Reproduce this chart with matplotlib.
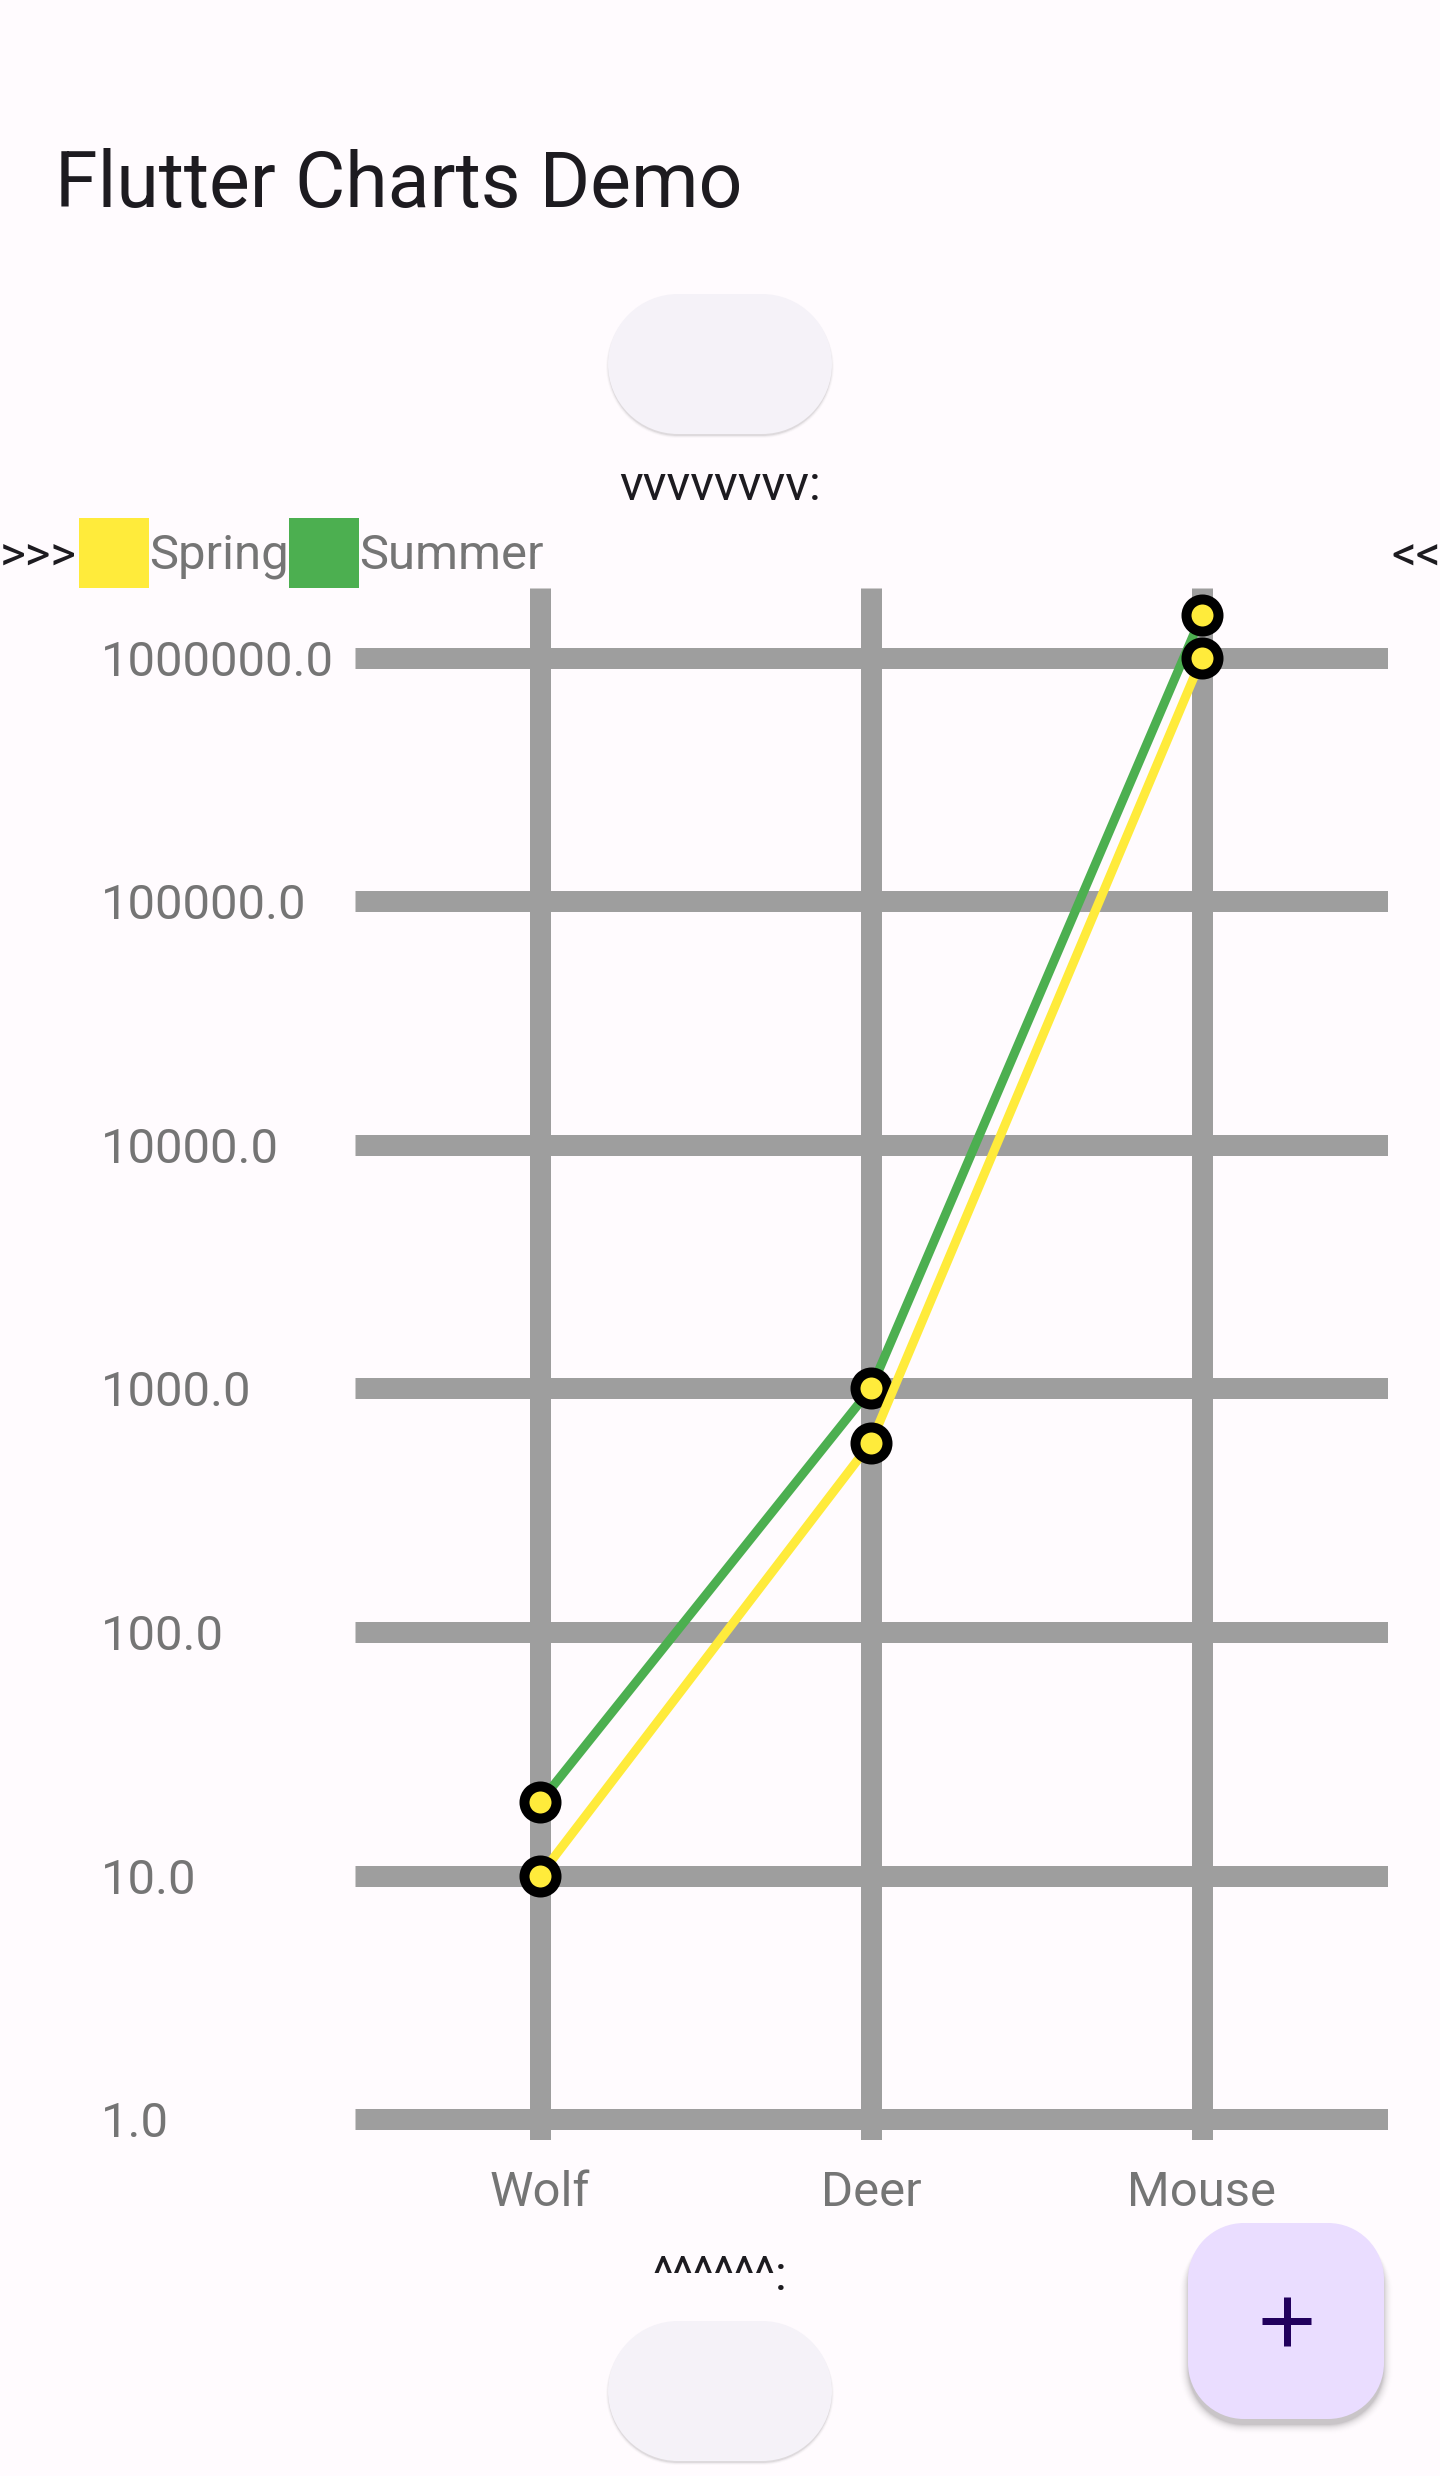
import matplotlib
matplotlib.use("Agg")
import matplotlib.pyplot as plt
from matplotlib.patches import Patch, PathPatch
from matplotlib.path import Path
from matplotlib.ticker import NullLocator

plt.rcParams['font.family'] = ['Roboto', 'DejaVu Sans']

# data
categories = ['Wolf', 'Deer', 'Mouse']
spring = [10, 600, 1000000]
summer = [20, 1000, 1500000]
y_ticks = [1, 10, 100, 1000, 10000, 100000, 1000000]
y_tick_labels = ['1.0', '10.0', '100.0', '1000.0', '10000.0', '100000.0', '1000000.0']
series_names = ['Spring', 'Summer']

W, H = 1440, 2476
BG = '#fffbfe'
GRID = '#9e9e9e'
YELLOW = '#ffeb3b'
GREEN = '#4caf50'
LABEL = '#757575'
PX = 0.72  # pixels -> points at dpi 100

fig = plt.figure(figsize=(W / 100, H / 100), dpi=100, facecolor=BG)

# overlay in pixel coordinates for the app chrome
deco = fig.add_axes([0, 0, 1, 1], zorder=0)
deco.set_xlim(0, W)
deco.set_ylim(H, 0)
deco.axis('off')


def rrect(x, y, w, h, r):
    verts, codes = [], []
    corners = [(x + w - r, y + r, 270, 360), (x + w - r, y + h - r, 0, 90),
               (x + r, y + h - r, 90, 180), (x + r, y + r, 180, 270)]
    for cx, cy, t1, t2 in corners:
        arc = Path.arc(t1, t2)
        c = list(arc.codes)
        if verts:
            c[0] = Path.LINETO
        verts.extend(arc.vertices * r + [cx, cy])
        codes.extend(c)
    verts.append(verts[0])
    codes.append(Path.CLOSEPOLY)
    return Path(verts, codes)


def button(x, y, w, h, r, color, shadow, drop):
    for i, a in enumerate(shadow):
        deco.add_patch(PathPatch(rrect(x - i, y + drop, w + 2 * i, h + i, r + i),
                                 fc='black', ec='none', alpha=a))
    deco.add_patch(PathPatch(rrect(x, y, w, h, r), fc=color, ec='none'))


button(608, 294, 224, 140, 70, '#f5f2f8', [0.07, 0.04, 0.02], 2)
button(608, 2321, 224, 140, 70, '#f5f2f8', [0.07, 0.04, 0.02], 2)
button(1188, 2223, 196, 196, 56, '#eaddff',
       [0.05, 0.04, 0.03, 0.025, 0.02, 0.015, 0.01, 0.01, 0.005, 0.005], 6)
deco.plot([1262, 1311], [2321, 2321], color='#21005d', lw=7 * PX, solid_capstyle='butt')
deco.plot([1286.5, 1286.5], [2297, 2346], color='#21005d', lw=7 * PX, solid_capstyle='butt')

deco.text(55, 207, 'Flutter Charts Demo', fontsize=77 * PX, color='#1d1b20', va='baseline')
deco.text(720, 500, 'vvvvvvvv:', fontsize=49 * PX, color='#1d1b20', ha='center', va='baseline')
deco.text(720, 2290, '^^^^^^:', fontsize=49 * PX, color='#1d1b20', ha='center', va='baseline')
deco.text(0, 571, '>>>', fontsize=49 * PX, color='#1d1b20', va='baseline')
deco.text(1391, 571, '<<', fontsize=49 * PX, color='#1d1b20', va='baseline')

# chart
left, right, top, bottom = 355, 1388, 588, 2140
ax = fig.add_axes([left / W, 1 - bottom / H, (right - left) / W, (bottom - top) / H], zorder=1)
ax.set_facecolor('none')
ax.set_yscale('log')
ax.set_xlim(-0.559, 2.562)
ax.set_ylim(10 ** -0.086, 10 ** 6.287)
for s in ax.spines.values():
    s.set_visible(False)

x = list(range(len(categories)))
ax.set_xticks(x, categories)
ax.set_yticks(y_ticks, y_tick_labels)
ax.yaxis.set_minor_locator(NullLocator())
ax.grid(True, color=GRID, linewidth=21 * PX, solid_capstyle='butt')
ax.set_axisbelow(True)
ax.tick_params(axis='both', length=0, labelsize=49 * PX, labelcolor=LABEL)
ax.tick_params(axis='y', pad=(left - 101) * PX)
ax.tick_params(axis='x', pad=30 * PX)
for lab in ax.get_yticklabels():
    lab.set_horizontalalignment('left')

mk = dict(marker='o', markersize=32 * PX, markerfacecolor=YELLOW,
          markeredgecolor='black', markeredgewidth=10 * PX)
ax.plot(x, summer, color=GREEN, lw=9 * PX, zorder=3)
ax.plot(x, summer, linestyle='none', zorder=4, clip_on=False, **mk)
ax.plot(x, spring, color=YELLOW, lw=9 * PX, zorder=5)
ax.plot(x, spring, linestyle='none', zorder=6, clip_on=False, **mk)

# legend swatches are 70x70 px; matplotlib trims the handle height by a descent term
box = 70 / 49
handles = [Patch(facecolor=YELLOW, edgecolor='none'), Patch(facecolor=GREEN, edgecolor='none')]
fig.legend(handles, series_names, loc='center left', bbox_to_anchor=(79 / W, 1 - 553 / H),
           ncol=2, frameon=False, fontsize=49 * PX, labelcolor=LABEL,
           handlelength=box, handleheight=(box - 0.245) / 0.65, handletextpad=0,
           columnspacing=0, borderpad=0, borderaxespad=0)

fig.savefig('out.png', dpi=100, facecolor=BG)
